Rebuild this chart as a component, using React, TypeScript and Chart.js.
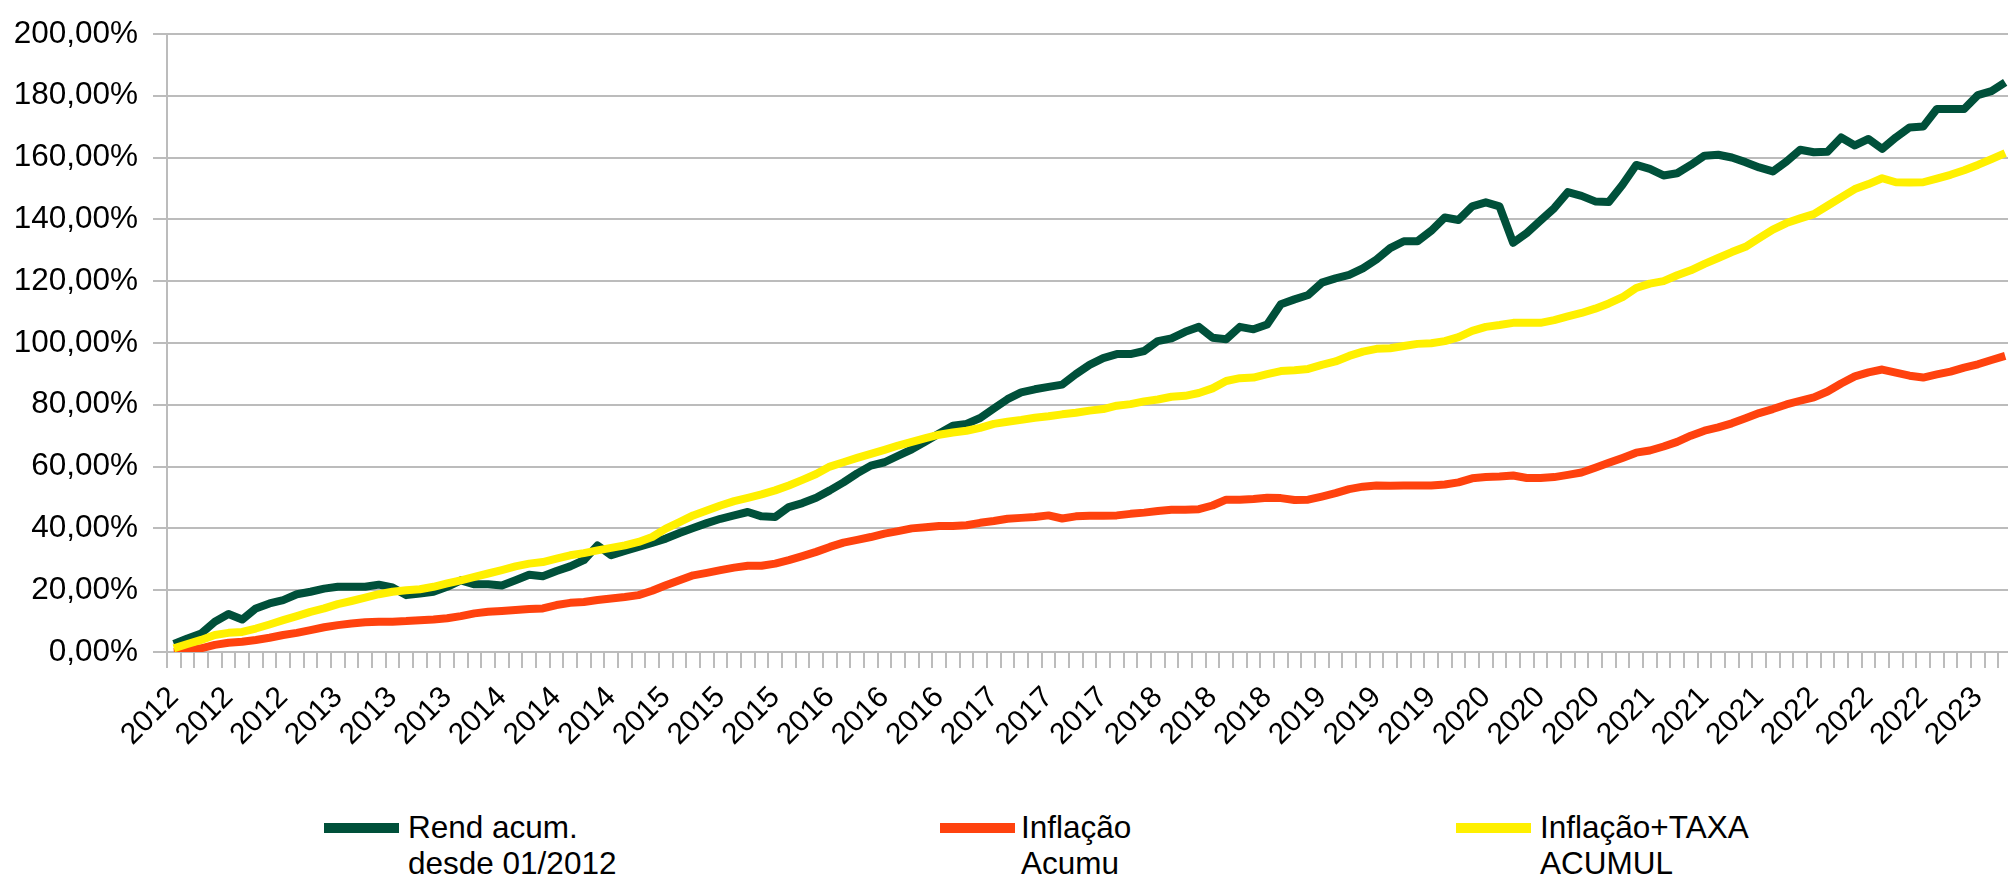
import React, { useEffect, useRef } from "react";
import { Chart, registerables } from "chart.js";

Chart.register(...registerables);

// ---- data ----
const years = [2012, 2013, 2014, 2015, 2016, 2017, 2018, 2019, 2020, 2021, 2022, 2023];
const monthsIn2023 = 3;

const tickLabels = [
  "2012", "2012", "2012", "2013", "2013", "2013", "2014", "2014", "2014",
  "2015", "2015", "2015", "2016", "2016", "2016", "2017", "2017", "2017",
  "2018", "2018", "2018", "2019", "2019", "2019", "2020", "2020", "2020",
  "2021", "2021", "2021", "2022", "2022", "2022", "2023",
];

const rendAcum = [
  2.6, 4.4, 6.0, 9.8, 12.3, 10.5, 14.1, 15.7, 16.8, 18.7, 19.5, 20.5, 21.1, 21.1, 21.1, 21.8, 20.9, 18.4, 18.9, 19.5, 21.1, 23.2, 21.9, 21.9, 21.5, 23.2, 25.0,
  24.5, 26.2, 27.7, 29.7, 34.5, 31.3, 32.7, 34.0, 35.3, 36.7, 38.5, 40.1, 41.7, 43.1, 44.2, 45.3, 43.9, 43.7, 46.9, 48.2, 49.9, 52.3, 54.9, 57.8, 60.3, 61.4, 63.5,
  65.6, 68.1, 70.7, 73.2, 73.8, 75.7, 78.8, 81.8, 84.0, 85.0, 85.8, 86.5, 89.9, 92.9, 95.1, 96.4, 96.4, 97.4, 100.6, 101.5, 103.6, 105.2, 101.7, 101.2, 105.2, 104.4, 106.0,
  112.5, 114.1, 115.5, 119.5, 120.9, 122.0, 124.1, 127.0, 130.7, 132.9, 132.9, 136.3, 140.6, 139.8, 144.2, 145.5, 144.2, 132.4, 135.6, 139.6, 143.6, 148.8, 147.6, 145.8, 145.6, 151.2, 157.6,
  156.3, 154.2, 154.9, 157.6, 160.6, 160.9, 160.0, 158.5, 156.8, 155.5, 158.7, 162.5, 161.7, 161.9, 166.5, 163.9, 166.0, 162.8, 166.5, 169.7, 170.0, 175.7, 175.7, 175.7, 180.2, 181.5, 184.3,
];

const inflacaoAcum = [
  0.0, 0.4, 1.2, 2.3, 3.0, 3.3, 3.9, 4.6, 5.5, 6.2, 7.1, 8.0, 8.7, 9.2, 9.6, 9.8, 9.8, 10.0, 10.3, 10.5, 10.9, 11.6, 12.5, 13.0, 13.3, 13.6, 13.9,
  14.1, 15.2, 15.9, 16.2, 16.8, 17.3, 17.8, 18.4, 19.8, 21.6, 23.2, 24.8, 25.6, 26.5, 27.3, 27.9, 27.9, 28.6, 29.7, 31.0, 32.4, 34.0, 35.4, 36.3, 37.2, 38.3, 39.1,
  40.0, 40.4, 40.8, 40.8, 41.0, 41.8, 42.4, 43.1, 43.4, 43.7, 44.2, 43.2, 43.9, 44.1, 44.1, 44.2, 44.7, 45.1, 45.6, 46.0, 46.0, 46.2, 47.4, 49.3, 49.3, 49.5, 49.9,
  49.8, 49.2, 49.3, 50.3, 51.4, 52.7, 53.5, 53.9, 53.8, 53.9, 53.9, 53.9, 54.2, 54.9, 56.2, 56.6, 56.8, 57.1, 56.3, 56.3, 56.6, 57.3, 58.1, 59.6, 61.2, 62.8, 64.5,
  65.2, 66.5, 68.0, 70.0, 71.6, 72.7, 74.0, 75.6, 77.3, 78.6, 80.1, 81.3, 82.4, 84.3, 86.9, 89.2, 90.5, 91.4, 90.4, 89.4, 88.8, 89.8, 90.7, 92.0, 93.1, 94.5, 95.8,
];

const inflacaoTaxa = [
  1.2, 2.6, 3.9, 5.5, 6.2, 6.5, 7.6, 8.9, 10.3, 11.6, 13.0, 14.1, 15.5, 16.5, 17.6, 18.7, 19.5, 20.0, 20.3, 21.1, 22.2, 23.2, 24.3, 25.4, 26.5, 27.7, 28.6,
  29.1, 30.2, 31.3, 32.0, 32.9, 33.7, 34.5, 35.6, 37.2, 39.9, 42.0, 44.2, 45.8, 47.4, 48.8, 49.9, 51.0, 52.3, 53.9, 55.7, 57.6, 60.0, 61.4, 62.8, 64.1, 65.4, 66.8,
  68.0, 69.2, 70.3, 71.0, 71.6, 72.5, 73.8, 74.5, 75.1, 75.8, 76.3, 76.9, 77.4, 78.1, 78.6, 79.7, 80.2, 81.1, 81.7, 82.6, 82.9, 83.8, 85.3, 87.7, 88.6, 88.8, 89.9,
  90.9, 91.2, 91.6, 92.9, 94.0, 95.8, 97.2, 98.1, 98.3, 99.0, 99.7, 99.9, 100.6, 101.9, 103.9, 105.2, 105.8, 106.5, 106.5, 106.5, 107.4, 108.6, 109.7, 111.1, 112.8, 114.8, 117.8,
  119.2, 120.0, 121.9, 123.5, 125.6, 127.5, 129.4, 131.1, 133.9, 136.7, 138.8, 140.3, 141.7, 144.4, 147.1, 149.8, 151.4, 153.3, 152.0, 151.9, 152.0, 153.2, 154.4, 155.9, 157.6, 159.5, 161.4,
];

const seriesNames = ["Rend acum.\ndesde 01/2012", "Inflação\nAcumu", "Inflação+TAXA\nACUMUL"];
const seriesColors = ["#00503a", "#ff420e", "#fff000"];

// monthly categories
const categories: string[] = [];
years.forEach((y) => {
  const n = y === 2023 ? monthsIn2023 : 12;
  for (let m = 1; m <= n; m++) categories.push(String(m).padStart(2, "0") + "/" + y);
});

const FONT = "'Liberation Sans', Arial, sans-serif";
const GRID = "#bcbcbc";
const CANVAS_W = 2012;
const CANVAS_H = 780;

export default function App() {
  const ref = useRef<HTMLCanvasElement | null>(null);

  useEffect(() => {
    if (!ref.current) return;
    const seriesData = [rendAcum, inflacaoAcum, inflacaoTaxa];
    const chart = new Chart(ref.current, {
      type: "line",
      data: {
        labels: categories,
        datasets: seriesData.map((d, k) => ({
          label: seriesNames[k],
          data: d,
          borderColor: seriesColors[k],
          backgroundColor: seriesColors[k],
          borderWidth: 8,
          pointRadius: 0,
          tension: 0,
          fill: false,
          borderJoinStyle: "round" as const,
          order: 2 - k,
        })),
      },
      options: {
        responsive: false,
        animation: false,
        devicePixelRatio: 1,
        layout: { padding: { top: 32, left: 0, right: 0, bottom: 0 } },
        plugins: { legend: { display: false }, tooltip: { enabled: false } },
        scales: {
          x: {
            type: "category",
            offset: true,
            grid: {
              offset: true,
              drawOnChartArea: false,
              drawTicks: true,
              tickLength: 16,
              color: GRID,
              lineWidth: 2,
            },
            border: { display: true, color: GRID, width: 2 },
            ticks: {
              autoSkip: false,
              maxRotation: 45,
              minRotation: 45,
              padding: 12,
              color: "#000",
              font: { family: FONT, size: 30 },
              callback: (_v: any, i: number) => (i % 4 === 0 ? tickLabels[i / 4] ?? "" : ""),
            },
            afterFit: (s: any) => {
              s.height = CANVAS_H - 652;
              s.paddingLeft = 0;
              s.paddingRight = 0;
            },
          },
          y: {
            min: 0,
            max: 200,
            grid: { color: GRID, lineWidth: 2, tickLength: 14, drawTicks: true },
            border: { display: true, color: GRID, width: 2 },
            ticks: {
              stepSize: 20,
              padding: 15,
              color: "#000",
              font: { family: FONT, size: 31.5 },
              callback: (v: any) => Number(v).toFixed(2).replace(".", ",") + "%",
            },
            afterFit: (s: any) => {
              s.width = 167;
            },
          },
        },
      },
    });
    return () => chart.destroy();
  }, []);

  const legendPos = [
    { sx: 324, tx: 408 },
    { sx: 940, tx: 1021 },
    { sx: 1456, tx: 1540 },
  ];

  return (
    <div style={{ position: "fixed", left: 0, top: 0, width: 2008, height: 881, overflow: "hidden", background: "#fff" }}>
      <canvas
        ref={ref}
        width={CANVAS_W}
        height={CANVAS_H}
        style={{ position: "absolute", left: 0, top: 0, width: CANVAS_W, height: CANVAS_H }}
      />
      {seriesNames.map((name, k) => (
        <React.Fragment key={k}>
          <div
            style={{
              position: "absolute",
              left: legendPos[k].sx,
              top: 823,
              width: 75,
              height: 10,
              background: seriesColors[k],
            }}
          />
          <div
            style={{
              position: "absolute",
              left: legendPos[k].tx,
              top: 809,
              fontFamily: FONT,
              fontSize: 31.5,
              lineHeight: "36px",
              color: "#000",
              whiteSpace: "pre",
            }}
          >
            {name}
          </div>
        </React.Fragment>
      ))}
    </div>
  );
}
